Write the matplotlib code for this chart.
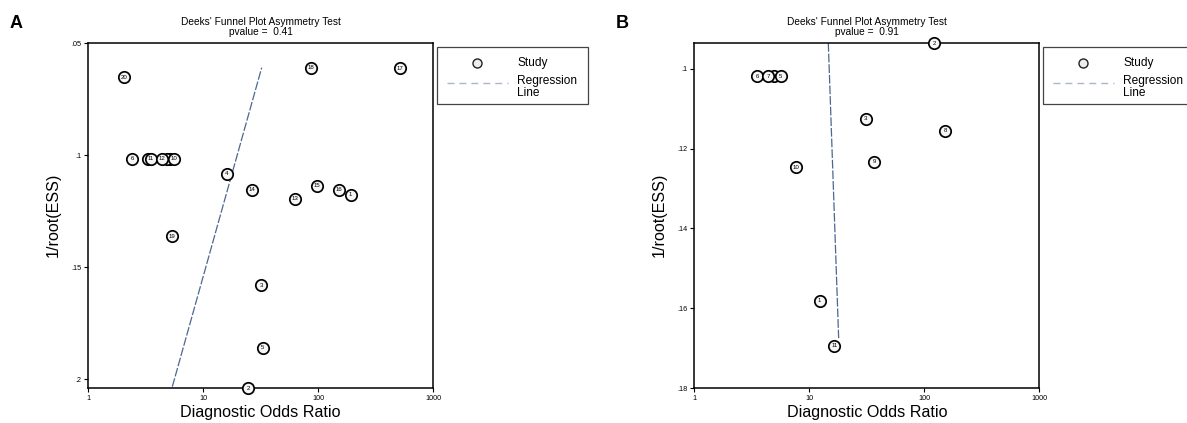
import matplotlib
matplotlib.use('Agg')
import matplotlib.pyplot as plt
from matplotlib.patches import Rectangle
from matplotlib.lines import Line2D
import numpy as np

plt.rcParams['font.family'] = ['Liberation Sans', 'DejaVu Sans']

# ---- panel A data ----
study_a = [1, 2, 3, 4, 5, 6, 7, 8, 9, 10, 11, 12, 13, 14, 15, 16, 17, 18, 19, 20]
dor_a = [192, 24.8, 32.1, 16.1, 33.0, 2.43, 5.17, 3.34, 4.84, 5.59,
         3.51, 4.37, 63.1, 26.7, 98, 152, 516, 86.4, 5.34, 2.07]
ess_a = [0.1177, 0.2042, 0.1582, 0.1083, 0.1860, 0.1016, 0.1016, 0.1016, 0.1016, 0.1016,
         0.1016, 0.1016, 0.1196, 0.1155, 0.1138, 0.1155, 0.0612, 0.0610, 0.1362, 0.0653]
reg_x_a = [5.41, 32.4]
reg_y_a = [0.2034, 0.061]
pval_a = "0.41"
yticks_a = [0.05, 0.1, 0.15, 0.2]
ytlabels_a = [".05", ".1", ".15", ".2"]
ylim_a = (0.204, 0.05)

# ---- panel B data ----
study_b = [1, 2, 3, 4, 5, 6, 7, 8, 9, 10, 11]
dor_b = [12.3, 122, 31.1, 4.96, 5.64, 3.51, 4.37, 152, 36.7, 7.7, 16.5]
ess_b = [0.1581, 0.0935, 0.1125, 0.1018, 0.1018, 0.1018, 0.1018, 0.1155, 0.1233, 0.1247, 0.1694]
reg_x_b = [14.63, 18.0]
reg_y_b = [0.0935, 0.1675]
pval_b = "0.91"
yticks_b = [0.1, 0.12, 0.14, 0.16, 0.18]
ytlabels_b = [".1", ".12", ".14", ".16", ".18"]
ylim_b = (0.18, 0.0935)

xticks = [1, 10, 100, 1000]
xtlabels = ["1", "10", "100", "1000"]

W, H = 1187, 423
fig = plt.figure(figsize=(W / 100, H / 100), dpi=100)

reg_color = '#4d6790'


def px(x, y):
    # pixel (top-left origin) -> figure fraction
    return x / W, 1 - y / H


def panel(left_px, letter, studies, dor, ess, rx, ry, pval, yt, ytl, ylim):
    ax = fig.add_axes([left_px / W, (H - 388) / H, 345 / W, 345 / H])
    ax.set_xscale('log')
    ax.set_xlim(1, 1000)
    ax.set_ylim(*ylim)
    ax.set_xticks(xticks)
    ax.set_xticklabels(xtlabels)
    ax.minorticks_off()
    ax.set_yticks(yt)
    ax.set_yticklabels(ytl)
    ax.tick_params(direction='out', length=3, width=0.8, labelsize=5.2, pad=2)
    for s in ax.spines.values():
        s.set_linewidth(1.1)

    ax.plot(rx, ry, color=reg_color, lw=0.9, dashes=(7, 1.5), zorder=2)

    for i, (st, x, y) in enumerate(zip(studies, dor, ess)):
        ax.plot([x], [y], 'o', ms=8.2, mfc='#f7f7f7', mec='black', mew=1.25,
                zorder=3 + 2 * i, clip_on=False)
        ax.text(x, y, str(st), fontsize=4.4, ha='center', va='center',
                zorder=4 + 2 * i, clip_on=False)

    cx = left_px + 172.5
    fig.text(*px(cx, 22), "Deeks' Funnel Plot Asymmetry Test", fontsize=7.3,
             ha='center', va='center')
    fig.text(*px(cx, 32), "pvalue =  " + pval, fontsize=7.3, ha='center', va='center')
    fig.text(*px(cx, 412), "Diagnostic Odds Ratio", fontsize=11.6, ha='center', va='center')
    fig.text(*px(left_px - 35, 215), "1/root(ESS)", fontsize=11.6, rotation=90,
             ha='center', va='center')
    fig.text(*px(left_px - 72, 23), letter, fontsize=13, fontweight='bold',
             ha='center', va='center')

    # legend box
    lx = left_px + 349
    fig.patches.append(Rectangle(px(lx, 104), 151 / W, 57 / H, transform=fig.transFigure,
                                 fill=False, edgecolor='#444444', lw=0.9))
    fig.lines.append(Line2D([px(lx + 40, 63)[0]], [px(lx + 40, 63)[1]], marker='o', ms=6.5,
                            mfc='#eeeeee', mec='#222222', mew=1.0,
                            transform=fig.transFigure))
    fig.lines.append(Line2D([px(lx + 10, 83)[0], px(lx + 71, 83)[0]],
                            [px(lx, 83)[1]] * 2, color='#a9b6cb', lw=1.0,
                            dashes=(5, 3.6), transform=fig.transFigure))
    fig.text(*px(lx + 80, 63), "Study", fontsize=8.6, ha='left', va='center')
    fig.text(*px(lx + 80, 87), "Regression\nLine", fontsize=8.6, ha='left', va='center',
             linespacing=0.95)
    return ax


panel(88, "A", study_a, dor_a, ess_a, reg_x_a, reg_y_a, pval_a, yticks_a, ytlabels_a, ylim_a)
panel(694.3, "B", study_b, dor_b, ess_b, reg_x_b, reg_y_b, pval_b, yticks_b, ytlabels_b, ylim_b)

fig.savefig("out.png", dpi=100)
